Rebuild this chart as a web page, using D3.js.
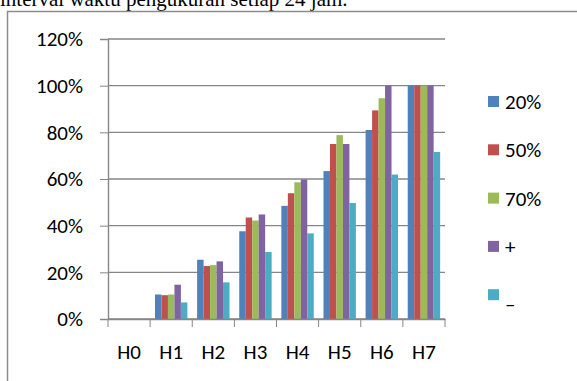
<!DOCTYPE html>
<html>
<head>
<meta charset="utf-8">
<script src="https://cdn.jsdelivr.net/npm/d3@7"></script>
<style>
  body { margin: 0; background: #fff; }
  svg { display: block; }
</style>
</head>
<body>
<div id="chart"></div>
<script>
const categories = ["H0", "H1", "H2", "H3", "H4", "H5", "H6", "H7"];
const seriesNames = ["20%", "50%", "70%", "+", "\u2013"];
const seriesColors = ["#4F81BD", "#C0504D", "#9BBB59", "#8064A2", "#4BACC6"];
const s20 = [0, 0.105, 0.254, 0.376, 0.485, 0.634, 0.81, 1.0];
const s50 = [0, 0.102, 0.227, 0.435, 0.539, 0.75, 0.894, 1.0];
const s70 = [0, 0.105, 0.231, 0.422, 0.586, 0.788, 0.946, 1.0];
const sPlus = [0, 0.147, 0.247, 0.448, 0.598, 0.75, 1.0, 1.0];
const sMinus = [0, 0.071, 0.157, 0.287, 0.367, 0.497, 0.619, 0.716];
const yTicks = [0, 0.2, 0.4, 0.6, 0.8, 1.0, 1.2];

const seriesValues = [s20, s50, s70, sPlus, sMinus];

const W = 577, H = 381;
const margin = { top: 39, left: 108, right: 132, bottom: 62 };
const width = W - margin.left - margin.right;
const height = H - margin.top - margin.bottom;

const svg = d3.select("#chart").append("svg")
    .attr("width", W)
    .attr("height", H);

// caption above the chart frame (cut off by the top edge, as in the source page)
svg.append("text")
    .attr("x", 0)
    .attr("y", 6)
    .attr("font-family", "'Liberation Serif', 'Times New Roman', serif")
    .attr("font-size", 21)
    .attr("fill", "#000")
    .text("interval waktu pengukuran setiap 24 jam.");

// chart frame
svg.append("path")
    .attr("d", "M7.5," + H + "V11.5H" + W)
    .attr("fill", "none")
    .attr("stroke", "#8c8c8c")
    .attr("stroke-width", 1.5);

const g = svg.append("g")
    .attr("transform", "translate(" + margin.left + "," + margin.top + ")");

const x0 = d3.scaleBand().domain(categories).range([0, width]).padding(0);
const x1 = d3.scaleBand().domain(seriesNames).range([0, x0.bandwidth()])
    .paddingInner(0).paddingOuter(0.75);
const y = d3.scaleLinear().domain([0, 1.2]).range([height, 0]);

const font = "Carlito, Calibri, Lato, sans-serif";
const fontSize = 21;

// gridlines
g.append("g")
    .selectAll("line")
    .data(yTicks)
    .join("line")
    .attr("x1", 0)
    .attr("x2", width)
    .attr("y1", d => y(d))
    .attr("y2", d => y(d))
    .attr("stroke", "#868686")
    .attr("stroke-width", 1.4);

// bars
const rows = categories.map((c, i) => ({ cat: c, vals: seriesNames.map((s, j) => ({ s: s, j: j, v: seriesValues[j][i] })) }));

g.append("g")
    .selectAll("g")
    .data(rows)
    .join("g")
    .attr("transform", d => "translate(" + x0(d.cat) + ",0)")
    .selectAll("rect")
    .data(d => d.vals.filter(e => e.v > 0))
    .join("rect")
    .attr("x", d => x1(d.s))
    .attr("y", d => y(d.v))
    .attr("width", x1.bandwidth())
    .attr("height", d => y(0) - y(d.v))
    .attr("fill", d => seriesColors[d.j]);

// y axis
const yAxis = g.append("g")
    .call(d3.axisLeft(y).tickValues(yTicks).tickFormat(d3.format(".0%")).tickSize(8).tickPadding(17));
yAxis.select(".domain").attr("stroke", "#868686").attr("stroke-width", 1.4);
yAxis.selectAll(".tick line").attr("stroke", "#868686");
yAxis.selectAll("text").attr("font-family", font).attr("font-size", fontSize).attr("fill", "#000");

// x axis
const xAxis = g.append("g")
    .attr("transform", "translate(0," + height + ")")
    .call(d3.axisBottom(x0).tickSize(0).tickPadding(25));
xAxis.select(".domain").attr("stroke", "#868686").attr("stroke-width", 1.4);
xAxis.selectAll("text").attr("font-family", font).attr("font-size", fontSize).attr("fill", "#000");
g.append("g")
    .selectAll("line")
    .data(categories.concat(["end"]))
    .join("line")
    .attr("x1", (d, i) => i * x0.step())
    .attr("x2", (d, i) => i * x0.step())
    .attr("y1", height)
    .attr("y2", height + 8)
    .attr("stroke", "#868686");

// legend
const legend = svg.append("g")
    .attr("transform", "translate(488,0)");
const item = legend.selectAll("g")
    .data(seriesNames)
    .join("g")
    .attr("transform", (d, i) => "translate(0," + (101.5 + i * 48.3) + ")");
item.append("rect")
    .attr("x", 0)
    .attr("y", -5.5)
    .attr("width", 11)
    .attr("height", 11)
    .attr("fill", (d, i) => seriesColors[i]);
item.append("text")
    .attr("x", 17)
    .attr("y", (d, i) => i === 4 ? 16 : 7.5)
    .attr("font-family", font)
    .attr("font-size", fontSize)
    .attr("fill", "#000")
    .text(d => d);
</script>
</body>
</html>
